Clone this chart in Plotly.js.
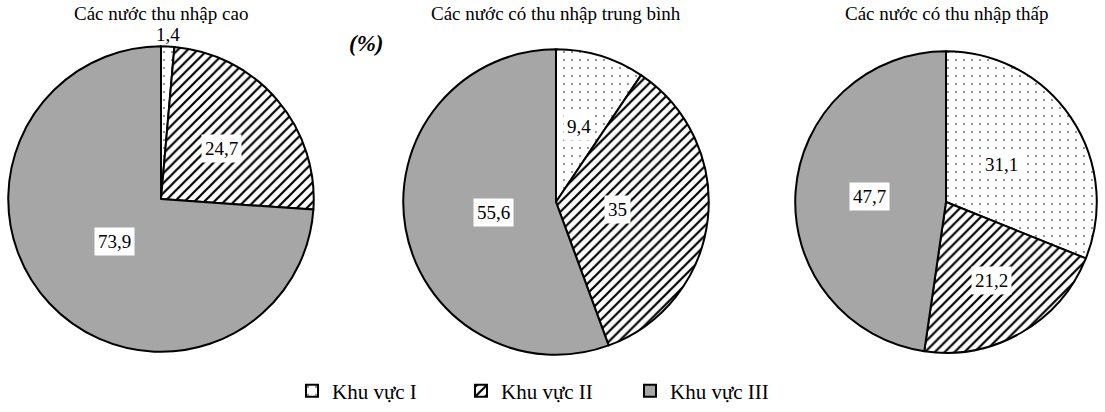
<!DOCTYPE html>
<html>
<head>
<meta charset="utf-8">
<script src="https://cdn.plot.ly/plotly-3.0.1.min.js"></script>
<style>html,body{margin:0;padding:0;background:#fff;}#chart{width:1105px;height:412px;}</style>
</head>
<body>
<div id="chart"></div>
<script>
const sectors = ["Khu vực I", "Khu vực II", "Khu vực III"];
const groupTitles = ["Các nước thu nhập cao", "Các nước có thu nhập trung bình", "Các nước có thu nhập thấp"];
const highIncome = [1.4, 24.7, 73.9];
const middleIncome = [9.4, 35, 55.6];
const lowIncome = [31.1, 21.2, 47.7];
const series = [highIncome, middleIncome, lowIncome];

const W = 1105, H = 412;
// pie geometry (pixels): center x, center y, radius
const pies = [
  {cx: 161, cy: 202, r: 155},
  {cx: 556, cy: 205, r: 155},
  {cx: 946, cy: 205, r: 153}
];
// label distance from centre, as a fraction of radius (style only)
const labelRadius = [[1.08, 0.51, 0.41], [0.52, 0.40, 0.41], [0.44, 0.60, 0.50]];
const FONT = "'Liberation Serif', 'Times New Roman', serif";

const traces = series.map((vals, i) => {
  const p = pies[i];
  return {
    type: "pie",
    labels: sectors,
    values: vals,
    sort: false,
    direction: "clockwise",
    rotation: 0,
    textinfo: "none",
    hoverinfo: "label+value",
    showlegend: i === 0,
    domain: {
      x: [(p.cx - p.r) / W, (p.cx + p.r) / W],
      y: [(H - p.cy - p.r) / H, (H - p.cy + p.r) / H]
    },
    marker: {
      colors: ["#ffffff", "#ffffff", "#a6a6a6"],
      pattern: {
        shape: [".", "/", ""],
        fgcolor: ["#000000", "#000000", "#a6a6a6"],
        bgcolor: ["#ffffff", "#ffffff", "#a6a6a6"],
        size: [8, 7, 8],
        solidity: [0.03, 0.32, 0.3],
        fillmode: "replace"
      },
      line: {color: "#000", width: 2}
    }
  };
});

const fmt = v => String(v).replace(".", ",");
const annotations = [];
series.forEach((vals, i) => {
  const p = pies[i];
  const total = vals.reduce((a, b) => a + b, 0);
  let cum = 0;
  vals.forEach((v, k) => {
    const mid = (cum + v / 2) / total * 2 * Math.PI;
    cum += v;
    const small = v / total < 0.05;
    const rr = p.r * labelRadius[i][k];
    const px = p.cx + rr * Math.sin(mid);
    const py = p.cy - rr * Math.cos(mid);
    annotations.push({
      xref: "paper", yref: "paper",
      x: px / W, y: 1 - py / H,
      text: fmt(v), showarrow: false,
      font: {family: FONT, size: 19, color: "#000"},
      bgcolor: small ? "rgba(0,0,0,0)" : "#fff",
      borderpad: 3,
      xanchor: "center", yanchor: "middle"
    });
  });
  annotations.push({
    xref: "paper", yref: "paper",
    x: p.cx / W, y: 1 - 14 / H,
    text: groupTitles[i], showarrow: false,
    font: {family: FONT, size: 19, color: "#000"},
    xanchor: "center", yanchor: "middle"
  });
});
annotations.push({
  xref: "paper", yref: "paper",
  x: 366 / W, y: 1 - 44 / H,
  text: "<b><i>(%)</i></b>", showarrow: false,
  font: {family: FONT, size: 23, color: "#000"},
  xanchor: "center", yanchor: "middle"
});

const layout = {
  width: W, height: H,
  margin: {l: 0, r: 0, t: 0, b: 0},
  paper_bgcolor: "#fff",
  showlegend: true,
  legend: {
    orientation: "h",
    x: 0.5 - 7 / W, xanchor: "center",
    y: 1 - 397 / H, yanchor: "middle",
    font: {family: FONT, size: 21, color: "#000"},
    itemwidth: 30,
    tracegroupgap: 0,
    traceorder: "normal",
    entrywidth: 124
  },
  annotations: annotations
};

Plotly.newPlot("chart", traces, layout, {displayModeBar: false, staticPlot: true});
</script>
</body>
</html>
